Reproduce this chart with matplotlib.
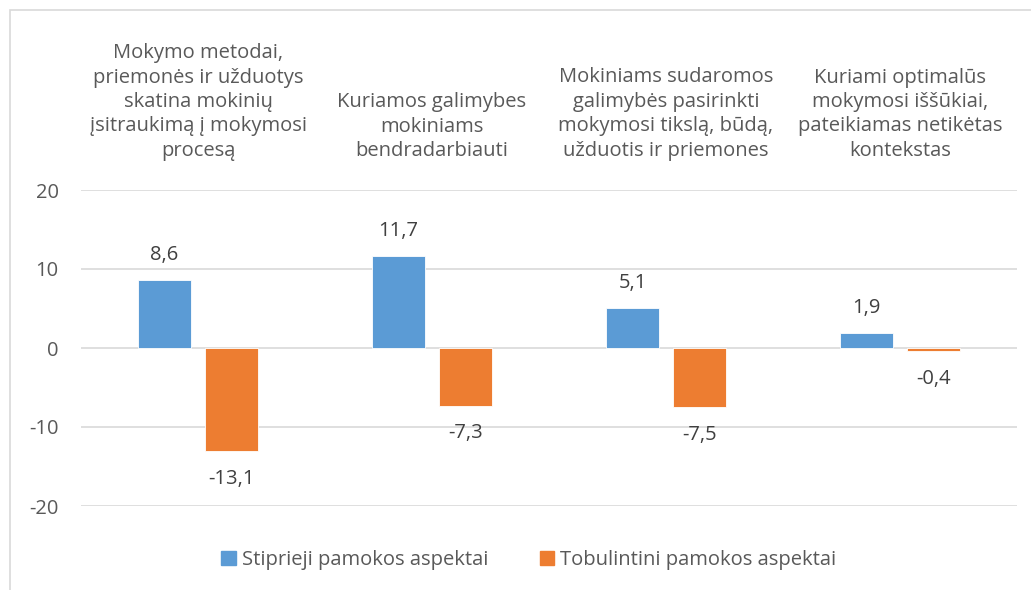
import matplotlib
matplotlib.use("Agg")
import matplotlib.pyplot as plt
from matplotlib.patches import Patch, Rectangle
import matplotlib.transforms as mtransforms

plt.rcParams['font.family'] = ['Open Sans', 'DejaVu Sans']

categories = [
    "Mokymo metodai,\npriemonės ir užduotys\nskatina mokinių\nįsitraukimą į mokymosi\nprocesą",
    "Kuriamos galimybes\nmokiniams\nbendradarbiauti",
    "Mokiniams sudaromos\ngalimybės pasirinkti\nmokymosi tikslą, būdą,\nužduotis ir priemones",
    "Kuriami optimalūs\nmokymosi iššūkiai,\npateikiamas netikėtas\nkontekstas",
]
series_names = ["Stiprieji pamokos aspektai", "Tobulintini pamokos aspektai"]
strong = [8.6, 11.7, 5.1, 1.9]
improve = [-13.1, -7.3, -7.5, -0.4]
yticks = [-20, -10, 0, 10, 20]

BLUE = "#5B9BD5"
ORANGE = "#ED7D31"
GRID = "#D9D9D9"
TXT = "#595959"
LBL = "#404040"
FS = 14.5

W, H = 1031, 590
fig = plt.figure(figsize=(W / 100, H / 100), dpi=100)

# outer chart frame
fig.patches.append(Rectangle((10 / W, -0.1), 1.2, 1 - 10 / H + 0.1,
                             transform=fig.transFigure, fill=False,
                             edgecolor=GRID, linewidth=1.2))

left, right, top, bottom = 81, 1017, 190, 506
ax = fig.add_axes([left / W, 1 - bottom / H, (right - left) / W, (bottom - top) / H])

x = list(range(len(categories)))
off, bw = 0.143, 0.226
ax.bar([i - off for i in x], strong, width=bw, color=BLUE,
       edgecolor="white", linewidth=0.6, zorder=3)
ax.bar([i + off for i in x], improve, width=bw, color=ORANGE,
       edgecolor="white", linewidth=0.6, zorder=3)

ax.set_xlim(-0.5, len(categories) - 0.5)
ax.set_ylim(-20, 20)
ax.set_yticks(yticks)
ax.set_yticklabels([str(t) for t in yticks], fontsize=FS, color=TXT)
ax.tick_params(axis='y', length=0, pad=16)
ax.set_xticks([])
for s in ax.spines.values():
    s.set_visible(False)
for t in yticks:
    ax.axhline(t, color=GRID, linewidth=1.2, zorder=1)


def fmt(v):
    return f"{v:.1f}".replace(".", ",")


for i, v in enumerate(strong):
    ax.annotate(fmt(v), (i - off, v), xytext=(0, 18), textcoords="offset points",
                ha="center", va="center", fontsize=FS, color=LBL)
for i, v in enumerate(improve):
    ax.annotate(fmt(v), (i + off, v), xytext=(0, -20), textcoords="offset points",
                ha="center", va="center", fontsize=FS, color=LBL)

# category labels above the plot
trans = mtransforms.blended_transform_factory(ax.transData, fig.transFigure)
for i, c in enumerate(categories):
    ax.text(i, 1 - 161 / H, c, transform=trans, ha="center", va="bottom",
            fontsize=FS, color=TXT, linespacing=1.3)

handles = [Patch(color=BLUE), Patch(color=ORANGE)]
fig.legend(handles, series_names, loc="center", bbox_to_anchor=(529 / W, 1 - 560 / H),
           ncol=2, frameon=False, fontsize=FS, labelcolor=TXT,
           handlelength=0.7, handleheight=0.7, handletextpad=0.3, columnspacing=2.6)

fig.savefig("out.png", dpi=100, facecolor="white")
